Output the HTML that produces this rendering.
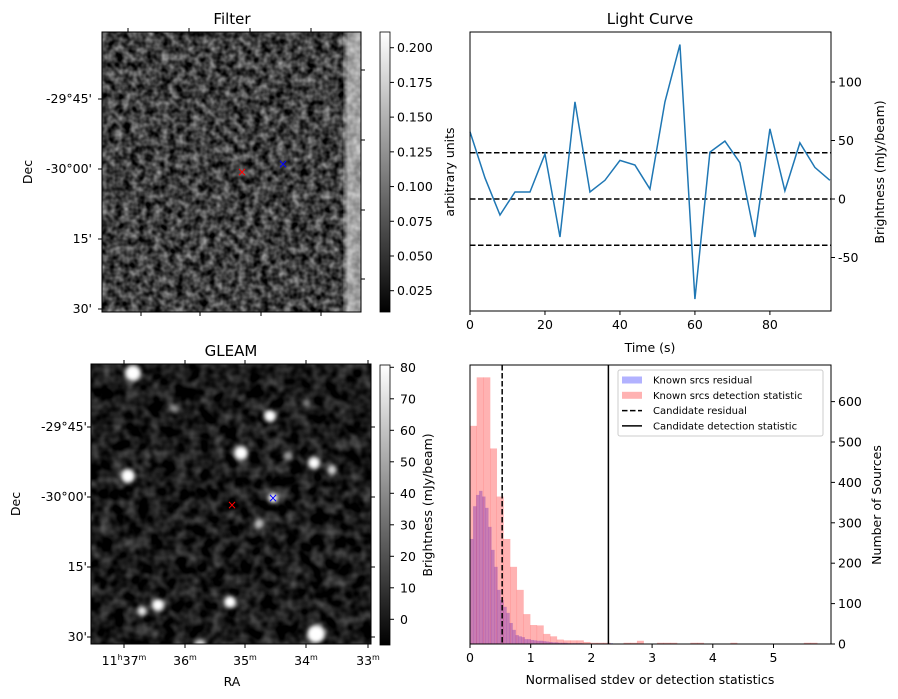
<!DOCTYPE html>
<html><head><meta charset="utf-8"><style>
body{margin:0;background:#fff}
svg{display:block;font-family:"DejaVu Sans","Liberation Sans",sans-serif}
</style></head><body>
<svg id="fig" width="898" height="699" viewBox="0 0 898 699" xmlns="http://www.w3.org/2000/svg">
<defs>
<filter id="nf" x="0" y="0" width="100%" height="100%" color-interpolation-filters="sRGB">
<feTurbulence type="fractalNoise" baseFrequency="0.13" numOctaves="2" seed="3"/>
<feColorMatrix type="matrix" values="1 0 0 0 0 1 0 0 0 0 1 0 0 0 0 0 0 0 0 1"/>
<feComponentTransfer><feFuncR type="linear" slope="0.9" intercept="-0.2"/><feFuncG type="linear" slope="0.9" intercept="-0.2"/><feFuncB type="linear" slope="0.9" intercept="-0.2"/></feComponentTransfer>
</filter>
<filter id="ng" x="0" y="0" width="100%" height="100%" color-interpolation-filters="sRGB">
<feTurbulence type="fractalNoise" baseFrequency="0.08" numOctaves="2" seed="7"/>
<feColorMatrix type="matrix" values="1 0 0 0 0 1 0 0 0 0 1 0 0 0 0 0 0 0 0 1"/>
<feComponentTransfer><feFuncR type="linear" slope="0.6" intercept="-0.2"/><feFuncG type="linear" slope="0.6" intercept="-0.2"/><feFuncB type="linear" slope="0.6" intercept="-0.2"/></feComponentTransfer>
</filter>
<filter id="blur"><feGaussianBlur stdDeviation="2"/></filter>
<linearGradient id="cb" x1="0" y1="1" x2="0" y2="0"><stop offset="0" stop-color="#000"/><stop offset="1" stop-color="#fff"/></linearGradient>
<linearGradient id="band" x1="0" y1="0" x2="1" y2="0"><stop offset="0" stop-color="#fff" stop-opacity="0.1"/><stop offset="0.3" stop-color="#fff" stop-opacity="0.55"/><stop offset="1" stop-color="#fff" stop-opacity="0.5"/></linearGradient>
<clipPath id="cg"><rect x="91" y="364" width="280" height="280"/></clipPath>
</defs>

<g>
<text x="232" y="24" font-size="15" text-anchor="middle">Filter</text>
<rect x="102" y="32" width="259" height="280" fill="#000"/>
<rect x="102" y="32" width="259" height="280" filter="url(#nf)"/>
<rect x="343" y="32" width="18" height="280" fill="url(#band)"/>
<rect x="102" y="32" width="259" height="280" fill="none" stroke="#000" stroke-width="1"/>
<text x="242" y="176" font-size="12" fill="#f00" text-anchor="middle">×</text>
<text x="283" y="168" font-size="12" fill="#00f" text-anchor="middle">×</text>
<g font-size="12.5" text-anchor="end">
<text x="92" y="103">-29°45'</text><text x="92" y="173">-30°00'</text><text x="92" y="243">15'</text><text x="92" y="313">30'</text>
</g>
<g stroke="#000"><path d="M98 99H102M98 169H102M98 239H102M98 309H102M361 70H365M361 140H365M361 210H365M361 279H365M128 28V32M189 28V32M250 28V32M311 28V32M141 312V316M200 312V316M261 312V316M321 312V316"/></g>
<text x="32" y="172" font-size="12.5" text-anchor="middle" transform="rotate(-90 32 172)">Dec</text>
<rect x="380" y="32" width="10" height="280" fill="url(#cb)" stroke="#000" stroke-width="0.8"/>
<g id="cbf" font-size="12.5"></g>
<text x="454" y="172" font-size="12.5" text-anchor="middle" transform="rotate(-90 454 172)">arbitrary units</text>
</g>

<g>
<text x="231" y="356" font-size="15" text-anchor="middle">GLEAM</text>
<rect x="91" y="364" width="280" height="280" fill="#000"/>
<rect x="91" y="364" width="280" height="280" filter="url(#ng)"/>
<g clip-path="url(#cg)" fill="#fff">
<g filter="url(#blur)">
<circle cx="133" cy="373" r="8"/><circle cx="174" cy="409" r="4" opacity="0.45"/><circle cx="270" cy="416" r="6"/>
<circle cx="241" cy="453" r="7"/><circle cx="128" cy="476" r="7"/><circle cx="288" cy="456" r="5" opacity="0.6"/>
<circle cx="314" cy="463" r="6"/><circle cx="332" cy="470" r="5" opacity="0.8"/><circle cx="273" cy="498" r="5"/>
<circle cx="259" cy="524" r="5" opacity="0.7"/><circle cx="158" cy="605" r="6"/><circle cx="142" cy="611" r="5" opacity="0.9"/>
<circle cx="230" cy="602" r="6"/><circle cx="316" cy="634" r="9"/><circle cx="306" cy="403" r="4" opacity="0.4"/>
<circle cx="200" cy="645" r="6" opacity="0.8"/><circle cx="147" cy="455" r="3" opacity="0.3"/>
</g></g>
<rect x="91" y="364" width="280" height="280" fill="none" stroke="#000" stroke-width="1"/>
<text x="232" y="509" font-size="12" fill="#f00" text-anchor="middle">×</text>
<text x="273" y="502" font-size="12" fill="#00f" text-anchor="middle">×</text>
<g font-size="12.5" text-anchor="end">
<text x="87" y="431">-29°45'</text><text x="87" y="501">-30°00'</text><text x="87" y="571">15'</text><text x="87" y="641">30'</text>
</g>
<g stroke="#000"><path d="M87 427H91M87 497H91M87 567H91M87 637H91M371 427H375M371 497H375M371 567H375M371 637H375M124 364V360M185 364V360M245 364V360M306 364V360M368 364V360M124 644V648M185 644V648M245 644V648M306 644V648M368 644V648"/></g>
<g font-size="12.5" text-anchor="middle">
<text x="124" y="665">11<tspan font-size="8" dy="-5">h</tspan><tspan dy="5">37</tspan><tspan font-size="8" dy="-5">m</tspan></text>
<text x="185" y="665">36<tspan font-size="8" dy="-5">m</tspan></text>
<text x="245" y="665">35<tspan font-size="8" dy="-5">m</tspan></text>
<text x="306" y="665">34<tspan font-size="8" dy="-5">m</tspan></text>
<text x="368" y="665">33<tspan font-size="8" dy="-5">m</tspan></text>
</g>
<text x="232" y="686" font-size="12.5" text-anchor="middle">RA</text>
<text x="20" y="504" font-size="12.5" text-anchor="middle" transform="rotate(-90 20 504)">Dec</text>
<rect x="380" y="365" width="10" height="280" fill="url(#cb)" stroke="#000" stroke-width="0.8"/>
<g id="cbg" font-size="12.5"></g>
<text x="432" y="505" font-size="12.5" text-anchor="middle" transform="rotate(-90 432 505)">Brightness (mJy/beam)</text>
</g>

<g id="lc">
<text x="650" y="24" font-size="15" text-anchor="middle">Light Curve</text>
</g>
<g id="hist"></g>
</svg>
<script>
const lcTimes = [0,4,8,12,16,20,24,28,32,36,40,44,48,52,56,60,64,68,72,76,80,84,88,92,96];
const lcValues = [57.5,18,-13.7,6,6,38.5,-32.5,83,6,16,33,29,8.5,83,132,-85.5,40,49.5,31,-32.5,60,7,48,27,16];
const lcThresholds = [39.5,0,-39.5];
const lcXTicks = [0,20,40,60,80];
const lcYTicks = [-50,0,50,100];
const redBinWidth = 0.11;
const redCounts = [540,660,660,484,365,260,191,134,74,47,46,25,19,11,9,9,9,5,3,3,3,0,0,3,3,8,0,0,3,3,3,0,0,3,3,0,0,0,0,3,0,0,0,0,0,0,0,0,0,0,3,3];
const blueBinWidth = 0.05;
const blueCounts = [260,341,369,379,365,337,290,233,191,134,109,92,77,52,35,22,19,17,12,12,10,9,8,8,7,6,5,4,4,3,3,3,2,2,2,2,2,1,1,1,1,1,1,1,1,1,2];
const candResidual = 0.53;
const candDetection = 2.28;
const histXTicks = [0,1,2,3,4,5];
const histYTicks = [0,100,200,300,400,500,600];
const filterCbTicks = [0.025,0.050,0.075,0.100,0.125,0.150,0.175,0.200];
const gleamCbTicks = [0,10,20,30,40,50,60,70,80];

const NS='http://www.w3.org/2000/svg';
function mk(parent,tag,attrs,text){const e=document.createElementNS(NS,tag);for(const k in attrs)e.setAttribute(k,attrs[k]);if(text!==undefined)e.textContent=text;parent.appendChild(e);return e;}

(function(){
 const g=document.getElementById('cbf');
 const fy=v=>290.7-(v-0.025)*(290.7-47.7)/0.175;
 filterCbTicks.forEach(v=>{const y=fy(v);
  mk(g,'line',{x1:390,x2:394,y1:y,y2:y,stroke:'#000'});
  const t=mk(g,'text',{x:397,y:y+4.5},v.toFixed(3));
  
  });
 const g2=document.getElementById('cbg');
 const gy=v=>619.3-v*(619.3-367.3)/80;
 gleamCbTicks.forEach(v=>{const y=gy(v);
  mk(g2,'line',{x1:390,x2:394,y1:y,y2:y,stroke:'#000'});
  const t=mk(g2,'text',{x:400,y:y+4.5},String(v));
  
  });
})();

(function(){
 const g=document.getElementById('lc');
 const L=470,R=831,T=32,B=311;
 const x=t=>L+(t-0)*(R-L)/96.3;
 const y=v=>199-v*1.17;
 lcThresholds.forEach(v=>{const l=mk(g,'line',{x1:L,x2:R,y1:y(v),y2:y(v),stroke:'#000','stroke-width':1.5,'stroke-dasharray':'5.5,2.5'});
  
  });
 const p=mk(g,'polyline',{points:lcTimes.map((t,i)=>x(t)+','+y(lcValues[i])).join(' '),fill:'none',stroke:'#1f77b4','stroke-width':1.5});
 
 
 mk(g,'rect',{x:L,y:T,width:R-L,height:B-T,fill:'none',stroke:'#000','stroke-width':1});
 lcXTicks.forEach(t=>{mk(g,'line',{x1:x(t),x2:x(t),y1:B,y2:B+4,stroke:'#000'});
  const tx=mk(g,'text',{x:x(t),y:B+18,'font-size':12.5,'text-anchor':'middle'},String(t));
  
  });
 lcYTicks.forEach(v=>{mk(g,'line',{x1:R,x2:R+4,y1:y(v),y2:y(v),stroke:'#000'});
  const tx=mk(g,'text',{x:R+7,y:y(v)+4.5,'font-size':12.5},String(v));
  
  });
 const xl=mk(g,'text',{x:650,y:352,'font-size':12.5,'text-anchor':'middle'},'Time (s)');
 
 
 const yl=mk(g,'text',{x:884,y:172,'font-size':12.5,'text-anchor':'middle',transform:'rotate(-90 884 172)'},'Brightness (mJy/beam)');
 
 
})();

(function(){
 const g=document.getElementById('hist');
 const L=470,R=831,T=365,B=644;
 const x=v=>L+v*60.7;
 const y=c=>B-c*0.404;
 blueCounts.forEach((c,i)=>{if(!c)return;const r=mk(g,'rect',{x:x(i*blueBinWidth),y:y(c),width:blueBinWidth*60.7+0.3,height:B-y(c),fill:'#0000ff','fill-opacity':0.3});
  
  });
 redCounts.forEach((c,i)=>{if(!c)return;const r=mk(g,'rect',{x:x(i*redBinWidth),y:y(c),width:redBinWidth*60.7+0.3,height:B-y(c),fill:'#ff0000','fill-opacity':0.3});
  
  });
 const d=mk(g,'line',{x1:x(candResidual),x2:x(candResidual),y1:T,y2:B,stroke:'#000','stroke-width':1.5,'stroke-dasharray':'5.5,2.5'});
 
 
 const s=mk(g,'line',{x1:x(candDetection),x2:x(candDetection),y1:T,y2:B,stroke:'#000','stroke-width':1.5});
 
 
 mk(g,'rect',{x:L,y:T,width:R-L,height:B-T,fill:'none',stroke:'#000','stroke-width':1});
 histXTicks.forEach(v=>{mk(g,'line',{x1:x(v),x2:x(v),y1:B,y2:B+4,stroke:'#000'});
  const tx=mk(g,'text',{x:x(v),y:B+18,'font-size':12.5,'text-anchor':'middle'},String(v));
  
  });
 histYTicks.forEach(v=>{mk(g,'line',{x1:R,x2:R+4,y1:y(v),y2:y(v),stroke:'#000'});
  const tx=mk(g,'text',{x:R+7,y:y(v)+4.5,'font-size':12.5},String(v));
  
  });
 const xl=mk(g,'text',{x:650,y:684,'font-size':12.5,'text-anchor':'middle'},'Normalised stdev or detection statistics');
 
 
 const yl=mk(g,'text',{x:881,y:505,'font-size':12.5,'text-anchor':'middle',transform:'rotate(-90 881 505)'},'Number of Sources');
 
 
 const lg=mk(g,'g',{});
 
 
 mk(lg,'rect',{x:618,y:370,width:205,height:66,rx:2,fill:'#fff','fill-opacity':0.8,stroke:'#ccc'});
 const items=[['Known srcs residual','blue'],['Known srcs detection statistic','red'],['Candidate residual','dash'],['Candidate detection statistic','solid']];
 items.forEach((it,i)=>{const yy=380+i*15.3;
  if(it[1]==='blue')mk(lg,'rect',{x:622,y:yy-3.5,width:20,height:7,fill:'#0000ff','fill-opacity':0.3});
  else if(it[1]==='red')mk(lg,'rect',{x:622,y:yy-3.5,width:20,height:7,fill:'#ff0000','fill-opacity':0.3});
  else mk(lg,'line',{x1:622,x2:642,y1:yy,y2:yy,stroke:'#000','stroke-width':1.5,'stroke-dasharray':it[1]==='dash'?'5.5,2.5':'none'});
  const t=mk(lg,'text',{x:653,y:yy+3.5,'font-size':10},it[0]);
  
  });
})();
</script>
</body></html>
